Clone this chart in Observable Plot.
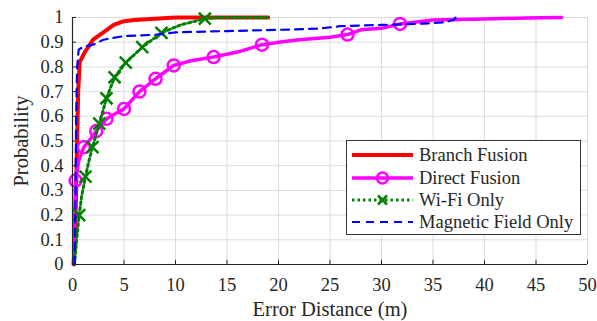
<!DOCTYPE html>
<html><head><meta charset="utf-8">
<script src="https://cdn.jsdelivr.net/npm/d3@7"></script>
<script src="https://cdn.jsdelivr.net/npm/@observablehq/plot@0.6"></script>
<style>
body{margin:0;background:#fff;}
#wrap{position:relative;width:597px;height:321px;}
#legend{position:absolute;}
#wrap svg text{font-family:"Liberation Serif","Times New Roman","DejaVu Serif",serif !important;}
</style>
</head><body><div id="wrap"></div>
<script>
// Branch Fusion CDF: [error (m), probability]
const branchX = [0.1,0.25,0.35,0.45,0.55,0.7,1.2,2,3,4,5,6,8,10,19];
const branchP = [0,0.1,0.3,0.5,0.7,0.82,0.86,0.91,0.94,0.97,0.985,0.99,0.995,1,1];
// Direct Fusion
const directX = [0.15,0.2,0.3,0.6,1.1,1.6,2.3,3.3,5,6.5,8.06,9.83,11.5,13.7,16,18.4,20,22,25,26.7,28,30,31.8,33,35,40,44,47.5];
const directP = [0,0.15,0.34,0.42,0.475,0.5,0.54,0.59,0.63,0.70,0.752,0.806,0.825,0.84,0.86,0.89,0.9,0.91,0.92,0.931,0.95,0.956,0.974,0.98,0.99,0.994,0.998,1];
const directMarkX = [0.3,1.1,2.3,3.3,5,6.5,8.06,9.83,13.7,18.4,26.7,31.8];
const directMarkP = [0.34,0.475,0.54,0.59,0.63,0.70,0.752,0.806,0.84,0.89,0.931,0.974];
// Wi-Fi Only
const wifiX = [0.2,0.4,0.65,0.9,1.26,1.6,1.94,2.6,3.3,4.08,5.17,6.77,8.64,10.5,12.85,14,19];
const wifiP = [0,0.1,0.2,0.28,0.356,0.42,0.475,0.57,0.673,0.758,0.817,0.88,0.938,0.97,0.995,1,1];
const wifiMarkX = [0.65,1.26,1.94,2.6,3.3,4.08,5.17,6.77,8.64,12.85];
const wifiMarkP = [0.2,0.356,0.475,0.57,0.673,0.758,0.817,0.88,0.938,0.995];
// Magnetic Field Only
const magX = [0.2,0.3,0.35,0.45,0.6,1,2,3,5,8,10,15,20,24,26,30,34,36,37,37.2];
const magP = [0,0.3,0.6,0.8,0.87,0.88,0.89,0.91,0.925,0.93,0.94,0.945,0.95,0.955,0.965,0.97,0.975,0.98,0.99,1.0];

const xTicks = [0,5,10,15,20,25,30,35,40,45,50];
const yTicks = [0,0.1,0.2,0.3,0.4,0.5,0.6,0.7,0.8,0.9,1];
const seriesNames = ["Branch Fusion","Direct Fusion","Wi-Fi Only","Magnetic Field Only"];
const seriesColors = ["#ff0000","#ff00ff","#008000","#0000ff"];

const zip = (xs, ps) => xs.map((x,i)=>({x, p: ps[i]}));
const branch = zip(branchX, branchP), direct = zip(directX, directP), wifi = zip(wifiX, wifiP), mag = zip(magX, magP);
const directM = zip(directMarkX, directMarkP), wifiM = zip(wifiMarkX, wifiMarkP);

const axisCol = "#262626";

const chart = Plot.plot({
  width: 597, height: 321,
  marginLeft: 72, marginRight: 10, marginTop: 17, marginBottom: 57,
  style: {background: "#fff"},
  x: {domain: [0,50], ticks: xTicks},
  y: {domain: [0,1], ticks: yTicks},
  marks: [
    Plot.gridX(xTicks, {stroke: "#dcdcdc", strokeOpacity: 1, strokeWidth: 1}),
    Plot.gridY(yTicks, {stroke: "#dcdcdc", strokeOpacity: 1, strokeWidth: 1}),
    Plot.axisX(xTicks, {tickSize: 0, tickPadding: 13, fontSize: 18.5, fill: axisCol, label: "Error Distance (m)", labelAnchor: "center", labelOffset: 51, labelArrow: "none", tickFormat: d => String(d)}),
    Plot.axisY(yTicks, {tickSize: 0, tickPadding: 9, fontSize: 18.5, fill: axisCol, label: "Probability", labelAnchor: "center", labelOffset: 59, labelArrow: "none", tickFormat: d => String(d)}),
    Plot.ruleX(xTicks, {y1: 0, y2: 0.017, stroke: axisCol, strokeWidth: 1}),
    Plot.ruleY(yTicks, {x1: 0, x2: 0.4, stroke: axisCol, strokeWidth: 1}),
    Plot.line(branch, {x: "x", y: "p", stroke: seriesColors[0], strokeWidth: 4}),
    Plot.line(direct, {x: "x", y: "p", stroke: seriesColors[1], strokeWidth: 3.5}),
    Plot.dot(directM, {x: "x", y: "p", stroke: seriesColors[1], strokeWidth: 2.5, r: 6, fill: "none"}),
    Plot.line(wifi, {x: "x", y: "p", stroke: seriesColors[2], strokeWidth: 3, strokeDasharray: "2.5 3"}),
    Plot.dot(wifiM, {x: "x", y: "p", stroke: seriesColors[2], strokeWidth: 2.5, r: 5.5, symbol: "times"}),
    Plot.line(mag, {x: "x", y: "p", stroke: seriesColors[3], strokeWidth: 2.2, strokeDasharray: "8 6"}),
    Plot.ruleX([0], {stroke: axisCol, strokeWidth: 1.2}),
    Plot.ruleY([0], {stroke: axisCol, strokeWidth: 1.2})
  ]
});
const wrap = document.getElementById("wrap");
wrap.appendChild(chart);
d3.select(chart).selectAll("[aria-label='x-axis label'] text, [aria-label='y-axis label'] text").style("font-size", "20.5px");

// Legend
const lg = d3.select(wrap).append("svg").attr("id","legend")
  .style("left","346px").style("top","140px")
  .attr("width", 235).attr("height", 95);
lg.append("rect").attr("x",0.5).attr("y",0.5).attr("width",234).attr("height",94)
  .attr("fill","#fff").attr("stroke","#333").attr("stroke-width",1);
const rows = [15, 38, 60, 82];
const styles = [
  {w:4, dash:null, marker:null},
  {w:3.5, dash:null, marker:"circle"},
  {w:3, dash:"2.5 3", marker:"times"},
  {w:2.2, dash:"8 6", marker:null}
];
seriesNames.forEach((name,i)=>{
  const g = lg.append("g").attr("transform", `translate(0,${rows[i]})`);
  g.append("line").attr("x1",6).attr("x2",67).attr("y1",0).attr("y2",0)
    .attr("stroke", seriesColors[i]).attr("stroke-width", styles[i].w)
    .attr("stroke-dasharray", styles[i].dash);
  if (styles[i].marker === "circle") g.append("circle").attr("cx",36.5).attr("cy",0).attr("r",5.5)
    .attr("fill","none").attr("stroke",seriesColors[i]).attr("stroke-width",2.5);
  if (styles[i].marker === "times") g.append("path").attr("d","M32,-4.5L41,4.5M32,4.5L41,-4.5")
    .attr("stroke",seriesColors[i]).attr("stroke-width",2.5);
  g.append("text").attr("x",73).attr("y",0).attr("dy","0.35em")
    .style("font-size","18.5px").attr("fill","#262626").text(name);
});
</script>
</body></html>
